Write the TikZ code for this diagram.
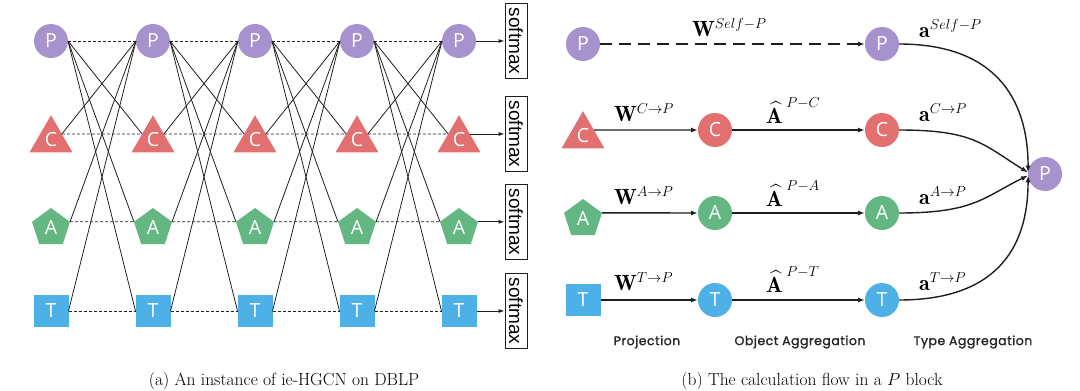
\documentclass[tikz,border=0pt]{standalone}
\usepackage{fontspec}
\usepackage{amsmath}
\newfontfamily\nodefont{Open Sans}
\newfontfamily\boxfont{Liberation Sans}
\newfontfamily\stagefont{Poppins}[LetterSpace=4,FakeBold=1.5]
\usetikzlibrary{shapes.geometric,arrows.meta,calc}
\definecolor{cP}{RGB}{166,146,204}
\definecolor{cC}{RGB}{226,112,112}
\definecolor{cA}{RGB}{100,183,130}
\definecolor{cT}{RGB}{77,177,232}
\definecolor{ln}{RGB}{30,30,30}
\newcommand{\hatA}[1]{\hbox{$\widehat{\mathbf{A}\,}$}^{#1}}
\tikzset{
  base/.style={inner sep=0pt, outer sep=0pt, font=\nodefont\fontsize{19.5}{19.5}\selectfont, text=white},
  pcirc/.style={base, circle, fill=cP, minimum size=34pt},
  ccirc/.style={base, circle, fill=cC, minimum size=34pt},
  acirc/.style={base, circle, fill=cA, minimum size=34pt},
  tcirc/.style={base, circle, fill=cT, minimum size=34pt},
  ctri/.style={base, regular polygon, regular polygon sides=3, fill=cC, minimum size=49.6pt},
  apent/.style={base, regular polygon, regular polygon sides=5, fill=cA, minimum size=40pt},
  tsq/.style={base, rectangle, fill=cT, minimum width=35pt, minimum height=32pt},
  sbox/.style={draw=ln, line width=0.9pt, rotate=-90, inner sep=0pt, minimum width=75pt, minimum height=22pt, font=\boxfont\fontsize{19}{19}\selectfont},
  thinln/.style={draw=ln, line width=0.8pt},
  dsh/.style={thinln, dash pattern=on 3pt off 2pt},
  arr/.style={draw=ln, line width=1.4pt, -{Latex[length=7pt,width=5pt]}},
  sarr/.style={draw=ln, line width=0.9pt, -{Latex[length=6pt,width=4pt]}},
  darr/.style={arr, dash pattern=on 12pt off 7pt},
  lab/.style={anchor=base west, inner sep=0pt, font=\fontsize{22}{26}\selectfont},
  stage/.style={font=\stagefont\fontsize{12.5}{14}\selectfont, text=black!85},
  captxt/.style={font=\fontsize{17.5}{20}\selectfont}
}
\begin{document}
\begin{tikzpicture}[x=1pt,y=-1pt]
\useasboundingbox (0,0) rectangle (1080,391);
% ---------- (a) ----------
\foreach \i/\x in {0/51,1/153,2/255,3/357,4/459}{
  \node[pcirc] (P\i) at (\x,41) {P};
  \node[ctri] (C\i) at (\x,140) {C};
  \node[apent] (A\i) at (\x,228) {A};
  \node[tsq] (T\i) at (\x,311) {T};
}
\foreach \i in {0,1,2,3}{
  \pgfmathtruncatemacro{\j}{\i+1}
  \draw[dsh] (P\i.east) -- (P\j.west);
  \draw[dsh] (C\i.29) -- (C\j.151);
  \draw[dsh] (A\i.18) -- (A\j.162);
  \draw[dsh] (T\i.east) -- (T\j.west);
  \draw[thinln] (P\i.east) -- (C\j.151);
  \draw[thinln] (P\i.east) -- (A\j.162);
  \draw[thinln] (P\i.east) -- (T\j.west);
  \draw[thinln] (C\i.29) -- (P\j.west);
  \draw[thinln] (A\i.18) -- (P\j.west);
  \draw[thinln] (T\i.east) -- (P\j.west);
}
\node[sbox] (S1) at (516,41) {softmax};
\node[sbox] (S2) at (516,134) {softmax};
\node[sbox] (S3) at (516,222) {softmax};
\node[sbox] (S4) at (516,311) {softmax};
\draw[sarr] (P4.east) -- (P4.east -| S1.south);
\draw[sarr] (C4.29) -- (C4.29 -| S2.south);
\draw[sarr] (A4.18) -- (A4.18 -| S3.south);
\draw[sarr] (T4.east) -- (T4.east -| S4.south);
\node[captxt] (capa) at (284,381) {(a)\ An instance of ie-HGCN on DBLP};
% ---------- (b) ----------
\node[pcirc] (RP0) at (583,44) {P};
\node[ctri] (RC0) at (583,136) {C};
\node[apent] (RA0) at (583,219) {A};
\node[tsq] (RT0) at (583,300) {T};
\node[ccirc] (RC1) at (715,130) {C};
\node[acirc] (RA1) at (715,213) {A};
\node[tcirc] (RT1) at (715,300) {T};
\node[pcirc] (RP2) at (882,44) {P};
\node[ccirc] (RC2) at (882,130) {C};
\node[acirc] (RA2) at (882,213) {A};
\node[tcirc] (RT2) at (882,300) {T};
\node[pcirc] (PF) at (1045,174) {P};
\draw[darr] (RP0) -- (RP2);
\draw[arr] (RC0.29) -- (RC1.west);
\draw[arr] (RC1) -- (RC2);
\draw[arr] (RA0.18) -- (RA1.west);
\draw[arr] (RA1) -- (RA2);
\draw[arr] (RT0.east) -- (RT1.west);
\draw[arr] (RT1) -- (RT2);
\draw[arr] (RP2.east) .. controls +(95,0) and +(0,-75) .. (PF.175);
\draw[arr] (RC2.east) .. controls +(75,0) and +(-45,-28) .. (PF.175);
\draw[arr] (RA2.east) .. controls +(75,0) and +(-45,22) .. (PF.185);
\draw[arr] (RT2.east) .. controls +(95,0) and +(0,75) .. (PF.185);
\node[lab] (w1) at (692,36) {$\mathbf{W}^{Self-P}$};
\node[lab] (a1) at (919,37) {$\mathbf{a}^{Self-P}$};
\node[lab] (w2) at (614,121) {$\mathbf{W}^{C\rightarrow P}$};
\node[lab] (h2) at (766,123) {$\hatA{P-C}$};
\node[lab] (a2) at (919,121) {$\mathbf{a}^{C\rightarrow P}$};
\node[lab] (w3) at (614,204) {$\mathbf{W}^{A\rightarrow P}$};
\node[lab] (h3) at (766,206) {$\hatA{P-A}$};
\node[lab] (a3) at (919,204) {$\mathbf{a}^{A\rightarrow P}$};
\node[lab] (w4) at (614,290) {$\mathbf{W}^{T\rightarrow P}$};
\node[lab] (h4) at (766,292) {$\hatA{P-T}$};
\node[lab] (a4) at (919,290) {$\mathbf{a}^{T\rightarrow P}$};
\node[stage] (s1) at (647,342) {Projection};
\node[stage] (s2) at (800,342) {Object Aggregation};
\node[stage] (s3) at (973,342) {Type Aggregation};
\node[captxt] (capb) at (812,381) {(b)\ The calculation flow in a $P$ block};
\end{tikzpicture}
\end{document}
